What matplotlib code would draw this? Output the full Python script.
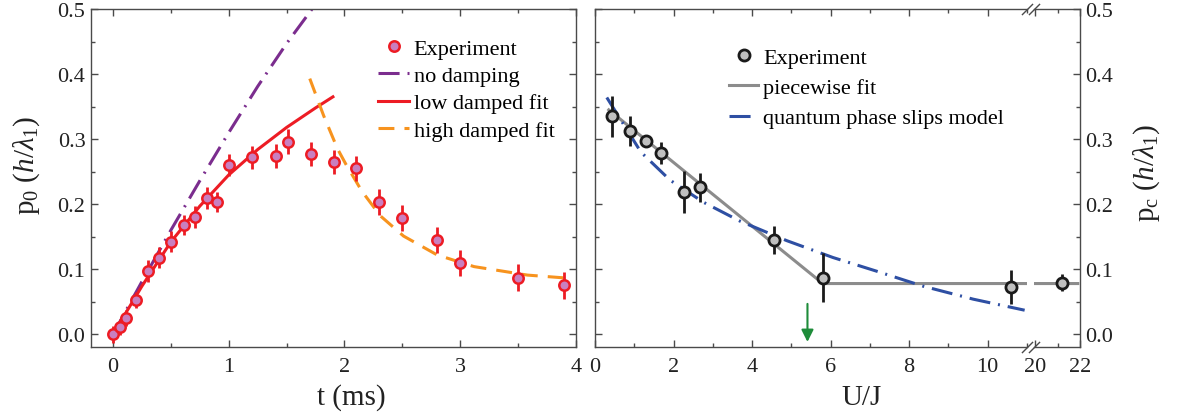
import matplotlib
matplotlib.use('Agg')
import matplotlib.pyplot as plt
from matplotlib.lines import Line2D
from matplotlib.ticker import MultipleLocator, FormatStrFormatter

plt.rcParams['font.family'] = 'Liberation Serif'
plt.rcParams['mathtext.fontset'] = 'custom'
plt.rcParams['mathtext.rm'] = 'Liberation Serif'
plt.rcParams['mathtext.it'] = 'Liberation Serif:italic'

# ---- left panel: p0 vs time ----
t_exp = [0.0, 0.06, 0.11, 0.2, 0.3, 0.4, 0.5, 0.61, 0.71, 0.81, 0.9,
         1.0, 1.2, 1.41, 1.51, 1.71, 1.91, 2.1, 2.3, 2.5, 2.8, 3.0, 3.5, 3.9]
p_exp = [0.0, 0.011, 0.025, 0.053, 0.097, 0.118, 0.142, 0.168, 0.18, 0.209, 0.203,
         0.26, 0.272, 0.274, 0.296, 0.277, 0.265, 0.255, 0.203, 0.178, 0.145, 0.109, 0.087, 0.075]
p_err = [0.013, 0.012, 0.012, 0.012, 0.017, 0.016, 0.016, 0.016, 0.017, 0.017, 0.015,
         0.017, 0.018, 0.018, 0.019, 0.018, 0.019, 0.019, 0.02, 0.02, 0.02, 0.02, 0.021, 0.021]

t_free = [0.0, 0.25, 0.5, 0.75, 1.0, 1.25, 1.5, 1.72]
p_free = [0.0, 0.081, 0.16, 0.236, 0.31, 0.381, 0.447, 0.5]

t_low = [0.0, 0.25, 0.5, 0.75, 1.0, 1.25, 1.5, 1.75, 1.9]
p_low = [0.0, 0.074, 0.142, 0.197, 0.245, 0.284, 0.318, 0.348, 0.365]

t_high = [1.70, 1.82, 1.94, 2.01, 2.15, 2.31, 2.51, 2.80, 3.12, 3.58, 3.95]
p_high = [0.393, 0.336, 0.285, 0.262, 0.22, 0.182, 0.151, 0.122, 0.104, 0.091, 0.086]

# ---- right panel: pc vs U/J ----
u_exp = [0.44, 0.89, 1.29, 1.67, 2.26, 2.67, 4.56, 5.81, 10.6, 21.19]
pc_exp = [0.335, 0.312, 0.297, 0.278, 0.219, 0.226, 0.145, 0.087, 0.073, 0.0795]
pc_err = [0.032, 0.023, 0.008, 0.017, 0.032, 0.022, 0.022, 0.038, 0.026, 0.0135]

u_fit = [0.35, 5.8, 21.9]
pc_fit = [0.345, 0.078, 0.078]

u_qps = [0.3, 1.17, 1.91, 2.76, 3.69, 4.88, 6.06, 7.17, 8.35, 9.63, 10.94]
pc_qps = [0.364, 0.28, 0.237, 0.203, 0.174, 0.144, 0.118, 0.097, 0.074, 0.054, 0.037]

arrow_u = 5.41

red = '#ed1c24'
pink = '#c97fc0'
purple = '#7b2d8e'
orange = '#f7931e'
grey = '#8c8c8c'
blue = '#2e4fa3'
green = '#1e8c3a'
spine_c = '#4a4a4a'
text_c = '#222222'

W, H = 1178, 414
fig = plt.figure(figsize=(W / 100, H / 100), dpi=100)


def box(x0, x1, y0, y1):
    return [x0 / W, 1 - y1 / H, (x1 - x0) / W, (y1 - y0) / H]


ax = fig.add_axes(box(91, 576, 10, 348.3))
axa = fig.add_axes(box(595, 1027, 10, 348.3))
axb = fig.add_axes(box(1034, 1080, 10, 348.3))


def style(a):
    for s in a.spines.values():
        s.set_color(spine_c)
        s.set_linewidth(1.0)
    a.tick_params(which='both', direction='in', colors=spine_c,
                  labelcolor=text_c, labelsize=16)
    a.tick_params(which='major', length=5, width=1)
    a.tick_params(which='minor', length=3, width=1)
    a.tick_params(axis='x', pad=7)
    a.tick_params(axis='y', pad=4)
    a.set_ylim(-0.02, 0.5)
    a.yaxis.set_major_locator(MultipleLocator(0.1))
    a.yaxis.set_minor_locator(MultipleLocator(0.05))
    a.yaxis.set_major_formatter(FormatStrFormatter('%.1f'))


for a in (ax, axa, axb):
    style(a)

# left panel
dash_dot = (6.9, 2.6, 0.65, 2.6)
lw = 2.2
ax.plot(t_free, p_free, color=purple, lw=lw, dashes=dash_dot, zorder=2)
ax.plot(t_low, p_low, color=red, lw=lw, zorder=3)
ax.plot(t_high, p_high, color=orange, lw=lw, dashes=(5.2, 3.3), zorder=3)
ax.errorbar(t_exp, p_exp, yerr=p_err, fmt='o', ms=7.5, mfc=pink, mec=red,
            mew=1.8, ecolor=red, elinewidth=2, capsize=0, zorder=5)
ax.set_xlim(-0.19, 4.0)
ax.xaxis.set_major_locator(MultipleLocator(1))
ax.xaxis.set_minor_locator(MultipleLocator(0.5))
ax.tick_params(which='both', top=True, right=True)
ax.set_xlabel('t (ms)', fontsize=21, color=text_c, va='center')
ax.xaxis.set_label_coords(0.536, -0.147)
ax.set_ylabel(r'p$_\mathrm{0}$ ($h/\lambda_\mathrm{1}$)', fontsize=21,
              color=text_c, va='center')
ax.yaxis.set_label_coords(-0.132, 0.54)

hl = [Line2D([], [], ls='none', marker='o', ms=7.5, mfc=pink, mec=red, mew=1.8),
      Line2D([], [], color=purple, lw=lw, dashes=dash_dot),
      Line2D([], [], color=red, lw=lw),
      Line2D([], [], color=orange, lw=lw, dashes=(5.2, 3.3))]
ax.legend(hl, ['Experiment', 'no damping', 'low damped fit', 'high damped fit'],
          loc='upper left', bbox_to_anchor=(0.592, 0.913), frameon=False,
          fontsize=16, handlelength=1.4, handletextpad=0.2, labelspacing=0.3,
          borderpad=0, borderaxespad=0)

# right panel, split x axis
for a in (axa, axb):
    a.plot(u_fit, pc_fit, color=grey, lw=lw, zorder=2)
    a.errorbar(u_exp, pc_exp, yerr=pc_err, fmt='o', ms=8, mfc='#c0c0c0', mec='#1a1a1a',
               mew=2, ecolor='#1a1a1a', elinewidth=2, capsize=0, zorder=5)
axa.plot(u_qps, pc_qps, color=blue, lw=lw, dashes=dash_dot, zorder=3)

axa.set_xlim(0, 11.0)
axa.xaxis.set_major_locator(MultipleLocator(2))
axa.xaxis.set_minor_locator(MultipleLocator(1))
axa.spines['right'].set_visible(False)
axa.tick_params(which='both', top=True, right=False, labelleft=False)

axb.set_xlim(19.95, 22)
axb.xaxis.set_major_locator(MultipleLocator(2))
axb.xaxis.set_minor_locator(MultipleLocator(1))
axb.spines['left'].set_visible(False)
axb.tick_params(which='both', top=True, left=False, right=True,
                labelleft=False, labelright=True)

axa.set_xlabel('U/J', fontsize=21, color=text_c, va='center')
axa.xaxis.set_label_coords(0.616, -0.147)
axb.yaxis.set_label_position('right')
axb.set_ylabel(r'p$_\mathrm{c}$ ($h/\lambda_\mathrm{1}$)', fontsize=21,
               color=text_c, va='center')
axb.yaxis.set_label_coords(2.46, 0.518)

axa.annotate('', xy=(arrow_u, -0.016), xytext=(arrow_u, 0.051),
             arrowprops=dict(arrowstyle='-|>', color=green, lw=1.5, mutation_scale=18))

# break marks
for a, xe in ((axa, 1), (axb, 0)):
    a.plot([xe, xe], [0, 1], transform=a.transAxes, ls='none',
           marker=[(-1, -1), (1, 1)], ms=8, mec=spine_c, mew=1, clip_on=False)

hr = [Line2D([], [], ls='none', marker='o', ms=8, mfc='#c0c0c0', mec='#1a1a1a', mew=2),
      Line2D([], [], color=grey, lw=lw),
      Line2D([], [], color=blue, lw=lw, dashes=dash_dot)]
axa.legend(hr, ['Experiment', 'piecewise fit', 'quantum phase slips model'],
           loc='upper left', bbox_to_anchor=(0.311, 0.886), frameon=False,
           fontsize=16, handlelength=1.3, handletextpad=0.22, labelspacing=0.43,
           borderpad=0, borderaxespad=0)

fig.savefig('out.png', dpi=100)
